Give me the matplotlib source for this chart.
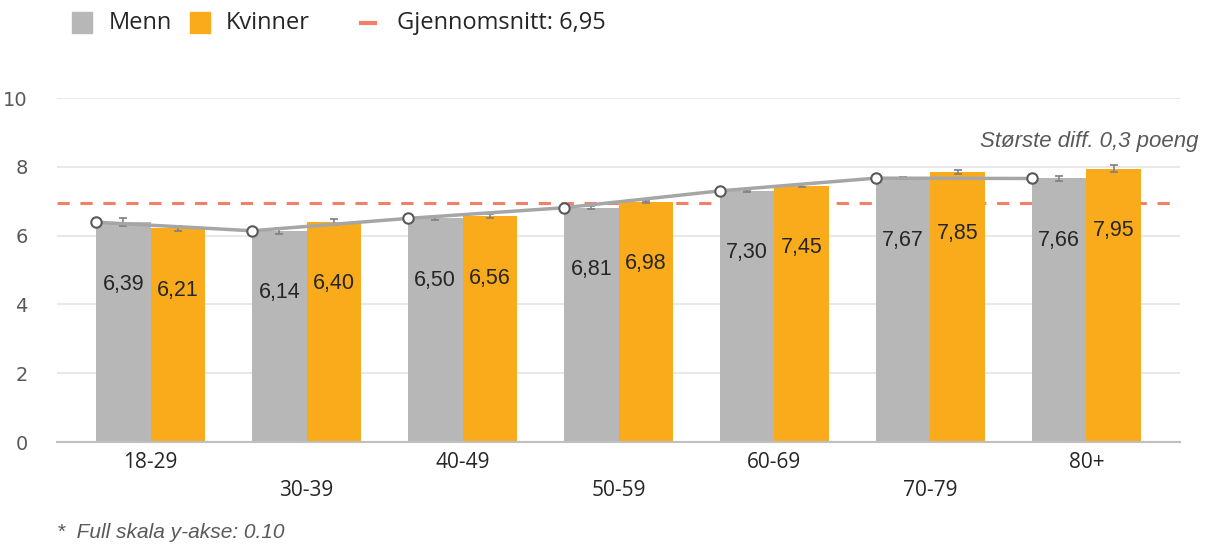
import numpy as np
import matplotlib.pyplot as plt
from matplotlib.patches import Rectangle
from matplotlib.lines import Line2D

# data
groups = ["18-29", "30-39", "40-49", "50-59", "60-69", "70-79", "80+"]
menn = [6.39, 6.14, 6.50, 6.81, 7.30, 7.67, 7.66]
kvinner = [6.21, 6.40, 6.56, 6.98, 7.45, 7.85, 7.95]
menn_err = [0.12, 0.08, 0.05, 0.04, 0.04, 0.03, 0.08]
kvinner_err = [0.07, 0.09, 0.06, 0.04, 0.04, 0.06, 0.10]
snitt = 6.95

grey = "#B7B7B7"
orange = "#F9AB1B"
red = "#F28068"
txt = "#595959"

W, H = 1209, 547
fig = plt.figure(figsize=(W/100, H/100), dpi=100)
ax = fig.add_axes([57/W, 1 - 442/H, (1180-57)/W, (442-98)/H])

x = np.arange(len(groups))
w = 0.35
ax.bar(x - w/2, menn, w, color=grey, zorder=2)
ax.bar(x + w/2, kvinner, w, color=orange, zorder=2)
ax.errorbar(x - w/2, menn, yerr=menn_err, fmt="none", ecolor="#7F7F7F",
            elinewidth=1.2, capsize=3, capthick=1.2, zorder=3)
ax.errorbar(x + w/2, kvinner, yerr=kvinner_err, fmt="none", ecolor="#7F7F7F",
            elinewidth=1.2, capsize=3, capthick=1.2, zorder=3)

ax.axhline(snitt, color=red, lw=2.2, dashes=(4, 3.5), zorder=1)

# trend line at left edge of Menn bars
ax.plot(x - w, menn, color="#A6A6A6", lw=2.5, marker="o", ms=7.5,
        mfc="white", mec="#595959", mew=1.5, zorder=4)

for i in range(len(groups)):
    ax.text(x[i] - w/2, menn[i] - 1.8, f"{menn[i]:.2f}".replace(".", ","),
            ha="center", va="center", fontsize=15.5, color="#262626",
            family="Liberation Sans", zorder=5)
    ax.text(x[i] + w/2, kvinner[i] - 1.8, f"{kvinner[i]:.2f}".replace(".", ","),
            ha="center", va="center", fontsize=15.5, color="#262626",
            family="Liberation Sans", zorder=5)

ax.set_xlim(-0.6, 6.6)
ax.set_ylim(0, 10)
ax.set_yticks([0, 2, 4, 6, 8, 10])
ax.yaxis.grid(True, color="#E8E8E8", lw=1.5, zorder=0)
ax.set_axisbelow(True)
for s in ["left", "right", "top"]:
    ax.spines[s].set_visible(False)
ax.spines["bottom"].set_color("#BFBFBF")
ax.spines["bottom"].set_linewidth(1.5)
ax.tick_params(axis="y", length=0, labelsize=14, labelcolor=txt, pad=21)
ax.tick_params(axis="x", length=0)
ax.set_xticks(x)
ax.set_xticklabels([])
for i, g in enumerate(groups):
    yoff = -0.6 if i % 2 == 0 else -1.4
    ax.text(x[i], yoff, g, ha="center", va="center", fontsize=15,
            color="#262626", family="Open Sans", clip_on=False)

fig.text(1198/W, 1 - 141/H, "Største diff. 0,3 poeng", ha="right", va="center",
         fontsize=16, style="italic", color=txt, family="Liberation Sans")

fig.text(57/W, 1 - 533/H, "*  Full skala y-akse: 0.10", ha="left",
         va="center", fontsize=15, style="italic", color=txt,
         family="Liberation Sans")

# legend drawn by hand
ly = 1 - 23/H
fig.patches.append(Rectangle((72/W, 1 - 33/H), 20/W, 21/H, color=grey,
                             transform=fig.transFigure))
fig.text(109/W, ly, "Menn", ha="left", va="center", fontsize=17,
         color="#262626", family="Open Sans")
fig.patches.append(Rectangle((190/W, 1 - 33/H), 20/W, 21/H, color=orange,
                             transform=fig.transFigure))
fig.text(226/W, ly, "Kvinner", ha="left", va="center", fontsize=17,
         color="#262626", family="Open Sans")
fig.lines.append(Line2D([361/W, 375/W], [ly, ly], color=red, lw=3,
                        transform=fig.transFigure))
fig.text(397/W, ly, "Gjennomsnitt: 6,95", ha="left", va="center",
         fontsize=17, color="#262626", family="Open Sans")

fig.savefig("out.png", dpi=100)
